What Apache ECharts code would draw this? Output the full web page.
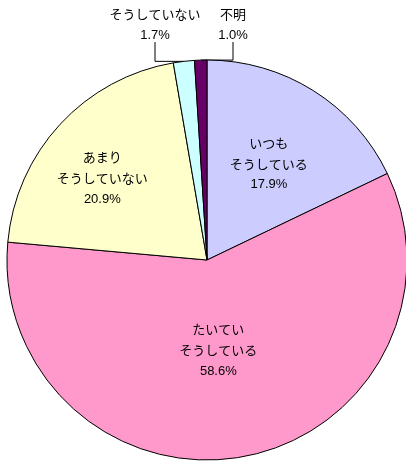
<!DOCTYPE html>
<html>
<head>
<meta charset="utf-8">
<script src="https://cdn.jsdelivr.net/npm/echarts@6/dist/echarts.min.js"></script>
<style>
  html, body { margin: 0; padding: 0; background: #fff; }
  #chart { width: 406px; height: 461px; }
</style>
</head>
<body>
<div id="chart"></div>
<script>
// 回答の内訳
var categories = ['いつも\nそうしている', 'たいてい\nそうしている', 'あまり\nそうしていない', 'そうしていない', '不明'];
var shares = [17.9, 58.6, 20.9, 1.7, 1.0];
var colors = ['#CCCCFF', '#FF99CC', '#FFFFCC', '#CCFFFF', '#660066'];

var myChart = echarts.init(document.getElementById('chart'));

var seriesData = categories.map(function (name, i) {
  var item = {
    name: name,
    value: shares[i],
    itemStyle: { color: colors[i] }
  };
  // 小さい扇形はラベルを外側に
  if (i >= 3) {
    item.label = { position: 'outside' };
    item.labelLine = { show: true };
  }
  return item;
});

// ラベル位置の微調整（内側は dx/dy、外側は上部に配置）
var insideShift = [[7, -9], [-7, -11], [-29, -12]];
var outsidePos = [[155, 25], [233, 25]];

var option = {
  animation: false,
  series: [
    {
      type: 'pie',
      center: [207, 260],
      radius: 200,
      startAngle: 90,
      clockwise: true,
      avoidLabelOverlap: false,
      itemStyle: {
        borderColor: '#000',
        borderWidth: 1
      },
      label: {
        show: true,
        position: 'inside',
        formatter: function (p) {
          return '{n|' + p.name.split('\n').join('}\n{n|') + '}\n{v|' + p.value.toFixed(1) + '%}';
        },
        rich: {
          n: {
            fontFamily: '"Noto Sans CJK JP"',
            fontSize: 13,
            color: '#000',
            lineHeight: 21
          },
          v: {
            fontFamily: '"Liberation Sans", Arial',
            fontSize: 13,
            color: '#000',
            lineHeight: 21
          }
        }
      },
      labelLine: {
        show: false,
        lineStyle: { color: '#000', width: 1 },
        length: 8,
        length2: 20
      },
      labelLayout: function (params) {
        var i = params.dataIndex;
        if (i < 3) {
          return { dx: insideShift[i][0], dy: insideShift[i][1] };
        }
        return {
          x: outsidePos[i - 3][0],
          y: outsidePos[i - 3][1],
          align: 'center',
          verticalAlign: 'middle'
        };
      },
      data: seriesData
    }
  ]
};

myChart.setOption(option);
</script>
</body>
</html>
